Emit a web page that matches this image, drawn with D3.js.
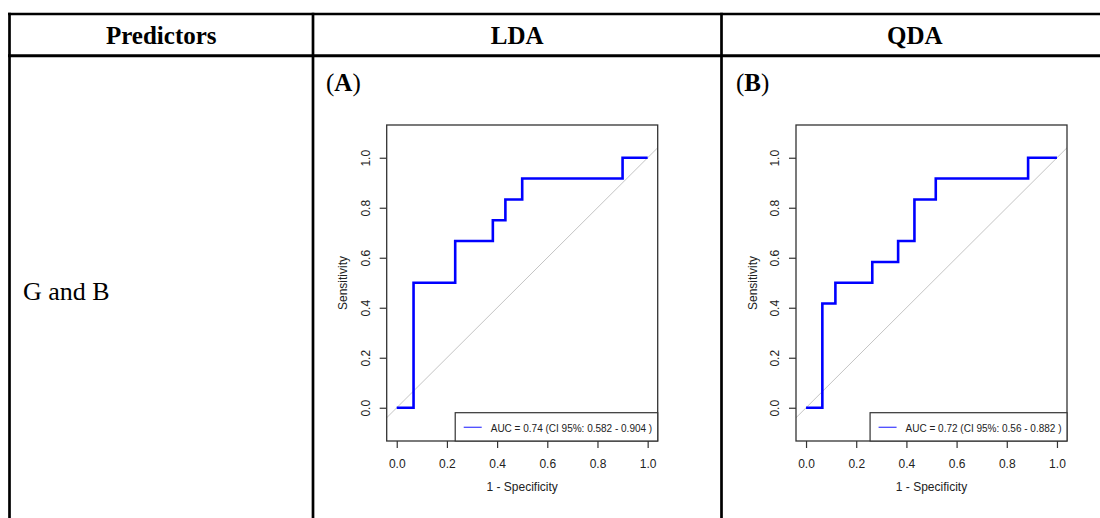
<html>
    <script src="https://d3js.org/d3.v7.min.js"></script>
    <style>
    body{ margin:0; background:white; }
    .serif{ font-family:"Liberation Serif", "Times New Roman", serif; }
    .sans{ font-family:"Liberation Sans", Arial, sans-serif; }
    </style>
    <body>
    <div class="table"></div>
    <script>
        // table text
        let headers = ["Predictors", "LDA", "QDA"];
        let rowLabel = "G and B";
        let panelLabels = ["A", "B"];

        // ROC curves: 1 - specificity (x) and sensitivity (y) at each corner of the staircase
        let ldaFpr = [0, 0.067, 0.233, 0.383, 0.433, 0.5, 0.9, 1.0];
        let ldaTpr = [0, 0.5, 0.667, 0.75, 0.833, 0.917, 1.0, 1.0];
        let qdaFpr = [0, 0.065, 0.117, 0.264, 0.367, 0.432, 0.517, 0.885, 1.0];
        let qdaTpr = [0, 0.417, 0.5, 0.583, 0.667, 0.833, 0.917, 1.0, 1.0];
        let legendTexts = ["AUC = 0.74 (CI 95%: 0.582 - 0.904 )", "AUC = 0.72 (CI 95%: 0.56 - 0.882 )"];
        let tickValues = [0, 0.2, 0.4, 0.6, 0.8, 1.0];

        let width = 1100, height = 518;
        let colX = [9.5, 313, 721.5, 1108];

        let svg = d3.select(".table").append("svg")
            .attr("width", width)
            .attr("height", height);

        // table rules
        let rules = svg.append("g").attr("stroke", "black");
        rules.append("line").attr("x1", 8).attr("x2", width).attr("y1", 14).attr("y2", 14).attr("stroke-width", 2.6);
        rules.append("line").attr("x1", 8).attr("x2", width).attr("y1", 55.8).attr("y2", 55.8).attr("stroke-width", 3);
        colX.slice(0, 3).forEach(function(x){
            rules.append("line").attr("x1", x).attr("x2", x).attr("y1", 12.7).attr("y2", height).attr("stroke-width", 2.7);
        });

        // header cells
        headers.forEach(function(h, i){
            svg.append("text")
                .attr("class", "serif")
                .attr("x", (colX[i] + colX[i+1]) / 2)
                .attr("y", 43.5)
                .attr("text-anchor", "middle")
                .attr("font-size", 25)
                .attr("font-weight", "bold")
                .text(h);
        });

        svg.append("text")
            .attr("class", "serif")
            .attr("x", 23)
            .attr("y", 300)
            .attr("font-size", 26)
            .text(rowLabel);

        let panels = [
            {label: panelLabels[0], fpr: ldaFpr, tpr: ldaTpr, legend: legendTexts[0], left: 386.7, labelX: 326},
            {label: panelLabels[1], fpr: qdaFpr, tpr: qdaTpr, legend: legendTexts[1], left: 796, labelX: 736}
        ];

        let plotW = 271, plotH = 316, plotTop = 125;

        panels.forEach(function(p, k){
            // panel letter, bold inside parentheses
            let lab = svg.append("text")
                .attr("class", "serif")
                .attr("x", p.labelX)
                .attr("y", 90.5)
                .attr("font-size", 25);
            lab.append("tspan").text("(");
            lab.append("tspan").attr("font-weight", "bold").text(p.label);
            lab.append("tspan").text(")");

            let g = svg.append("g").attr("transform", `translate(${p.left}, ${plotTop})`);

            let xScale = d3.scaleLinear().domain([-0.04, 1.04]).range([0, plotW]);
            let yScale = d3.scaleLinear().domain([-0.133, 1.131]).range([plotH, 0]);

            g.append("clipPath").attr("id", "clip" + k)
                .append("rect").attr("width", plotW).attr("height", plotH);

            // chance diagonal
            g.append("line")
                .attr("clip-path", `url(#clip${k})`)
                .attr("x1", xScale(-0.04)).attr("y1", yScale(-0.04))
                .attr("x2", xScale(1.04)).attr("y2", yScale(1.04))
                .attr("stroke", "#c4c4c4")
                .attr("stroke-width", 1);

            // ROC staircase
            let pts = p.fpr.map((d, i) => [d, p.tpr[i]]);
            let line = d3.line()
                .x(d => xScale(d[0]))
                .y(d => yScale(d[1]))
                .curve(d3.curveStepAfter);
            g.append("path")
                .datum(pts)
                .attr("d", line)
                .attr("fill", "none")
                .attr("stroke", "#0000ff")
                .attr("stroke-width", 2.6);

            // x axis
            let xAxis = g.append("g")
                .attr("class", "sans")
                .attr("transform", `translate(0, ${plotH})`)
                .call(d3.axisBottom(xScale).tickValues(tickValues).tickFormat(d3.format(".1f")).tickSize(7).tickPadding(11));
            xAxis.select(".domain").remove();
            xAxis.selectAll("line").attr("stroke", "#333").attr("stroke-width", 1.2);
            xAxis.selectAll("text").attr("font-size", 12).attr("fill", "#222");

            // y axis, labels parallel to the axis
            let yAxis = g.append("g")
                .attr("class", "sans")
                .call(d3.axisLeft(yScale).tickValues(tickValues).tickFormat(d3.format(".1f")).tickSize(7));
            yAxis.select(".domain").remove();
            yAxis.selectAll("line").attr("stroke", "#333").attr("stroke-width", 1.2);
            yAxis.selectAll("text")
                .attr("font-size", 12)
                .attr("fill", "#222")
                .attr("x", 0).attr("dy", 0)
                .attr("text-anchor", "middle")
                .attr("transform", "translate(-17, 0) rotate(-90)");

            // plot box
            g.append("rect")
                .attr("width", plotW).attr("height", plotH)
                .attr("fill", "none")
                .attr("stroke", "#333")
                .attr("stroke-width", 1.3);

            // axis titles
            g.append("text")
                .attr("class", "sans")
                .attr("x", (xScale(0) + xScale(1)) / 2)
                .attr("y", plotH + 50)
                .attr("text-anchor", "middle")
                .attr("font-size", 12)
                .attr("fill", "#222")
                .text("1 - Specificity");
            g.append("text")
                .attr("class", "sans")
                .attr("transform", `translate(-39.5, ${plotH / 2}) rotate(-90)`)
                .attr("text-anchor", "middle")
                .attr("font-size", 12)
                .attr("fill", "#222")
                .text("Sensitivity");

            // legend in the bottom right corner
            let leg = g.append("g");
            let legBox = leg.append("rect");
            let legText = leg.append("text")
                .attr("class", "sans")
                .attr("x", plotW - 5.5)
                .attr("y", plotH - 9.5)
                .attr("text-anchor", "end")
                .attr("font-size", 10)
                .attr("fill", "#222")
                .text(p.legend);
            let tw = legText.node().getComputedTextLength();
            let textStart = plotW - 5.5 - tw;
            legBox
                .attr("x", textStart - 35.5)
                .attr("y", plotH - 28.3)
                .attr("width", plotW - (textStart - 35.5))
                .attr("height", 28.3)
                .attr("fill", "white")
                .attr("stroke", "#333")
                .attr("stroke-width", 1.2);
            leg.append("line")
                .attr("x1", textStart - 27).attr("x2", textStart - 9)
                .attr("y1", plotH - 13.7).attr("y2", plotH - 13.7)
                .attr("stroke", "#4a4aff")
                .attr("stroke-width", 1.3);
        });
    </script>
    </body>
</html>
